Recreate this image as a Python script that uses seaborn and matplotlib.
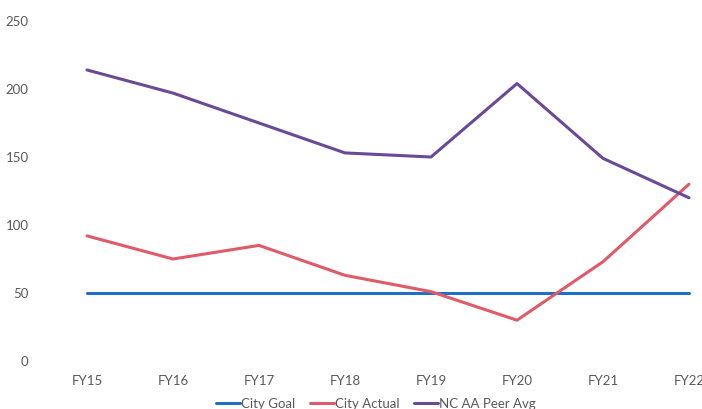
import pandas as pd
import seaborn as sns
import matplotlib.pyplot as plt

# Dane
years = ['FY15', 'FY16', 'FY17', 'FY18', 'FY19', 'FY20', 'FY21', 'FY22']
city_goal = [50, 50, 50, 50, 50, 50, 50, 50]
city_actual = [92, 75, 85, 63, 51, 30, 73, 130]
peer_avg = [214, 197, 175, 153, 150, 204, 149, 120]
series_names = ['City Goal', 'City Actual', 'NC AA Peer Avg']
colors = ['#1f6fc4', '#e05a68', '#6a4a98']

df = pd.DataFrame({'year': years * 3,
                   'value': city_goal + city_actual + peer_avg,
                   'series': [s for s in series_names for _ in years]})
df['x'] = df['year'].map({y: i for i, y in enumerate(years)})

sns.set_style('white')
plt.rcParams['font.family'] = ['Lato', 'DejaVu Sans']

fig = plt.figure(figsize=(7.02, 4.09), dpi=100)
# obszar wykresu wychodzi poza prawa krawedz (obrazek jest przyciety)
ax = fig.add_axes([44 / 702, 48 / 409, 688 / 702, 340 / 409])

sns.lineplot(data=df, x='x', y='value', hue='series', hue_order=series_names,
             palette=colors, linewidth=2.2, ax=ax, legend=False)

ax.set_xlim(-0.5, 7.5)
ax.set_ylim(0, 250)
ax.set_xticks(range(len(years)))
ax.set_xticklabels(years)
ax.set_yticks([0, 50, 100, 150, 200, 250])
ax.tick_params(axis='both', length=0, labelsize=9.5, labelcolor='#595959')
ax.tick_params(axis='y', pad=11)
ax.tick_params(axis='x', pad=10)
ax.set_xlabel('')
ax.set_ylabel('')
sns.despine(ax=ax, left=True, bottom=True)

handles = [plt.Line2D([], [], color=c, linewidth=2.2) for c in colors]
fig.legend(handles, series_names, loc='center', bbox_to_anchor=(376 / 702, 5 / 409),
           ncol=3, frameon=False, fontsize=9.5, handlelength=1.8, handletextpad=0.1,
           columnspacing=1.1, labelcolor='#595959')

plt.savefig('out.png', dpi=100)
